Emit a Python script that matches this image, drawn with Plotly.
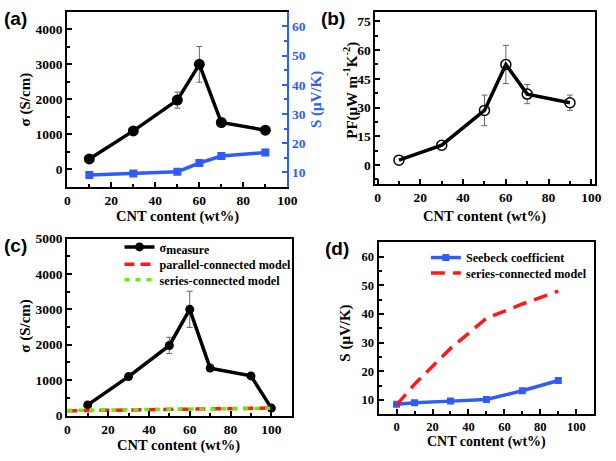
import plotly.graph_objects as go

# ---------------- data ----------------
cnt = [10, 30, 50, 60, 70, 90]
sigma = [300, 1100, 1980, 3000, 1340, 1120]
sigma_err = [0, 0, 230, 510, 0, 0]
seebeck_a = [9.1, 9.6, 10.2, 13.2, 15.6, 16.8]

pf = [2.5, 10.3, 28.5, 52.5, 37.0, 32.5]
pf_err = [0, 0, 8.0, 10.0, 5.0, 4.0]

cnt_c = [10, 30, 50, 60, 70, 90, 100]
sigma_c = [300, 1100, 1980, 3000, 1340, 1120, 210]
sigma_c_err = [0, 0, 230, 510, 0, 0, 0]
model_x = [0, 10, 30, 50, 60, 70, 90, 100]
parallel_model = [135, 143, 158, 172, 180, 187, 200, 212]
series_model_c = [145, 150, 160, 170, 176, 182, 195, 205]

cnt_d = [0, 10, 30, 50, 70, 90]
seebeck_d = [8.5, 9.0, 9.6, 10.2, 13.2, 16.8]
series_model_d = [8.3, 15.5, 28.0, 38.5, 43.5, 48.0]

# ---------------- style ----------------
SERIF = "'Liberation Serif', 'Times New Roman', Times, serif"
SANS = "'Liberation Sans', Arial, sans-serif"
W, H = 616, 461
BLUE = "#2f5bff"
RED = "#ff1a1a"
GREEN = "#66ee00"
ERR = dict(type="data", color="#666666", thickness=1, width=3)

def px(xp):
    return xp / W

def py(yp):
    return 1 - yp / H

def tf(size, color="black"):
    return dict(family=SERIF, size=size, color=color, weight="bold")

fig = go.Figure()

# (a)
fig.add_trace(go.Scatter(x=cnt, y=sigma, mode="lines+markers",
                         line=dict(color="black", width=3.5),
                         marker=dict(symbol="circle", size=11, color="black"),
                         error_y=dict(ERR, array=sigma_err),
                         xaxis="x", yaxis="y", showlegend=False))
fig.add_trace(go.Scatter(x=cnt, y=seebeck_a, mode="lines+markers",
                         line=dict(color=BLUE, width=3.5),
                         marker=dict(symbol="square", size=8, color=BLUE),
                         xaxis="x", yaxis="y5", showlegend=False))

# (b) markers first, line drawn over them
fig.add_trace(go.Scatter(x=cnt, y=pf, mode="markers",
                         marker=dict(symbol="circle", size=10, color="white",
                                     line=dict(color="black", width=1.5)),
                         error_y=dict(ERR, array=pf_err),
                         xaxis="x2", yaxis="y2", showlegend=False))
fig.add_trace(go.Scatter(x=cnt, y=pf, mode="lines",
                         line=dict(color="black", width=3.5),
                         xaxis="x2", yaxis="y2", showlegend=False))

# (c)
fig.add_trace(go.Scatter(x=cnt_c, y=sigma_c, mode="lines+markers",
                         name="σ<sub><span style='font-size:12px'>measure</span></sub>",
                         line=dict(color="black", width=3.5),
                         marker=dict(symbol="circle", size=9, color="black"),
                         error_y=dict(ERR, array=sigma_c_err),
                         xaxis="x3", yaxis="y3", legend="legend"))
fig.add_trace(go.Scatter(x=model_x, y=parallel_model, mode="lines",
                         name="parallel-connected model",
                         line=dict(color=RED, width=3.5, dash="10px,6px"),
                         xaxis="x3", yaxis="y3", legend="legend3"))
fig.add_trace(go.Scatter(x=model_x, y=series_model_c, mode="lines",
                         name="series-connected model",
                         line=dict(color=GREEN, width=3.5, dash="5px,6px"),
                         xaxis="x3", yaxis="y3", legend="legend4"))

# (d)
fig.add_trace(go.Scatter(x=cnt_d, y=seebeck_d, mode="lines+markers",
                         name="Seebeck coefficient",
                         line=dict(color=BLUE, width=3.5),
                         marker=dict(symbol="square", size=7, color=BLUE),
                         xaxis="x4", yaxis="y4", legend="legend2"))
fig.add_trace(go.Scatter(x=cnt_d, y=series_model_d, mode="lines",
                         name="series-connected model",
                         line=dict(color=RED, width=3.5, dash="14px,8px"),
                         xaxis="x4", yaxis="y4", legend="legend5"))


def xax(domain, anchor, rng, dtick, fs=14):
    return dict(domain=domain, anchor=anchor, range=rng, dtick=dtick, tick0=0,
                showgrid=False, zeroline=False, showline=True, linecolor="black",
                linewidth=2, mirror=True, ticks="inside", ticklen=5, tickwidth=2,
                tickcolor="black", tickfont=tf(fs),
                minor=dict(ticks="inside", ticklen=3, tickwidth=1.5, tickcolor="black", dtick=dtick / 2))

def yax(domain, anchor, rng, dtick, fs=14, color="black", mirror=True, side="left",
        overlaying=None):
    d = dict(domain=domain, anchor=anchor, range=rng, dtick=dtick, tick0=0,
             showgrid=False, zeroline=False, showline=True, linecolor=color,
             linewidth=2, mirror=mirror, ticks="inside", ticklen=5, tickwidth=2,
             tickcolor=color, side=side, tickfont=tf(fs, color),
             minor=dict(ticks="inside", ticklen=3, tickwidth=1.5, tickcolor=color, dtick=dtick / 2))
    if overlaying:
        d["overlaying"] = overlaying
    return d

def leg(x, y, fs):
    return dict(x=px(x), y=py(y), xanchor="left", yanchor="middle",
                bgcolor="rgba(0,0,0,0)", itemwidth=30, tracegroupgap=0,
                font=tf(fs))

dom_ax = [px(65.7), px(290.5)]
dom_ay = [py(186), py(5)]
dom_bx = [px(380.5), px(604.3)]
dom_by = [py(183), py(5)]
dom_cx = [px(65.7), px(295)]
dom_cy = [py(422.3), py(239.3)]
dom_dx = [px(383.7), px(604)]
dom_dy = [py(421), py(243.3)]

fig.update_layout(
    width=W, height=H,
    margin=dict(l=0, r=0, t=0, b=0),
    paper_bgcolor="white", plot_bgcolor="white",
    font=dict(family=SERIF, color="black"),
    xaxis=xax(dom_ax, "y", [0, 100], 20, fs=13.5),
    yaxis=yax(dom_ay, "x", [-500, 4500], 1000, fs=13.5, mirror=False),
    yaxis5=yax(dom_ay, "x", [5, 65], 10, fs=13.5, color=BLUE, mirror=False, side="right", overlaying="y"),
    xaxis2=xax(dom_bx, "y2", [-1, 101.5], 20, fs=13.5),
    yaxis2=yax(dom_by, "x2", [-10, 80], 15, fs=13.5),
    xaxis3=xax(dom_cx, "y3", [0, 110], 20, fs=13.5),
    yaxis3=yax(dom_cy, "x3", [0, 5000], 1000, fs=13.5),
    xaxis4=xax(dom_dx, "y4", [-10, 110], 20, fs=12.5),
    yaxis4=yax(dom_dy, "x4", [5, 65], 10, fs=12.5),
    legend=leg(119, 248, 12.2),
    legend3=leg(119, 266, 12.2),
    legend4=leg(119, 282, 12.2),
    legend2=leg(432, 259, 12.2),
    legend5=leg(432, 275, 12.2),
)

anns = []
def ann(text, x, y, size=14.5, angle=0, color="black", family=SERIF):
    anns.append(dict(text=text, x=px(x), y=py(y), xref="paper", yref="paper",
                     showarrow=False, textangle=angle, xanchor="center", yanchor="middle",
                     font=dict(family=family, size=size, color=color, weight="bold")))

# panel labels
ann("(a)", 13, 12, size=19, family=SANS)
ann("(b)", 337, 12, size=19, family=SANS)
ann("(c)", 13, 247, size=19, family=SANS)
ann("(d)", 341, 250, size=19, family=SANS)

# x titles
ann("CNT content (wt%)", 178, 217)
ann("CNT content (wt%)", 492, 217)
ann("CNT content (wt%)", 179, 453)
ann("CNT content (wt%)", 494, 450, size=14)

# y titles
ann("σ (S/cm)", 23, 96, angle=-90, size=15)
ann("S (μV/K)", 321, 96, angle=-90, color=BLUE, size=15)
ann("PF(μW m<sup>-1</sup>K<sup>-2</sup>)", 355, 86, angle=-90, size=15)
ann("σ (S/cm)", 23, 330, angle=-90, size=15)
ann("S (μV/K)", 349, 337, angle=-90, size=15)

fig.update_layout(annotations=anns)

fig.write_html("out.html")
